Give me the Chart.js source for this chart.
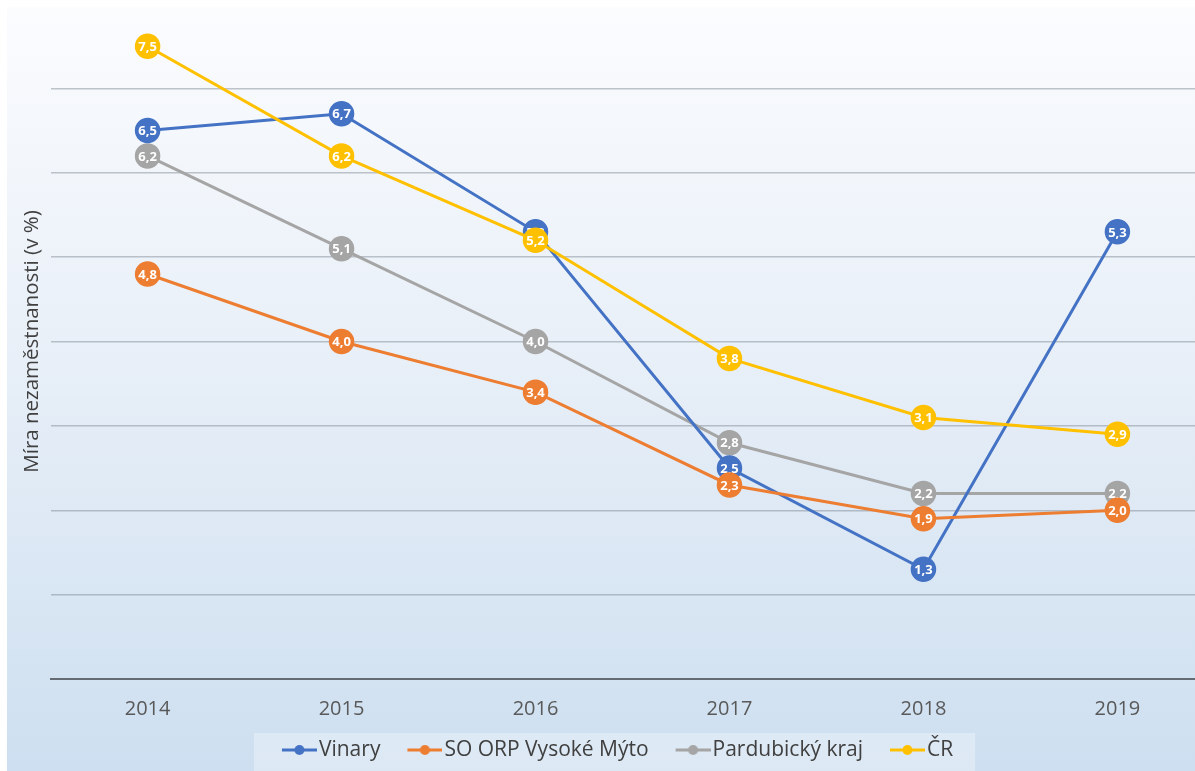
<!DOCTYPE html>
<html>
<head>
<meta charset="utf-8">
<script src="https://cdn.jsdelivr.net/npm/chart.js@4/dist/chart.umd.min.js"></script>
<style>
  html, body { margin: 0; padding: 0; background: #fff; overflow: hidden; }
</style>
</head>
<body>
<canvas id="unemploymentChart" width="1195" height="771"></canvas>
<script>
const years = [2014, 2015, 2016, 2017, 2018, 2019];
const vinary = [6.5, 6.7, 5.3, 2.5, 1.3, 5.3];
const vysokeMyto = [4.8, 4.0, 3.4, 2.3, 1.9, 2.0];
const pardubickyKraj = [6.2, 5.1, 4.0, 2.8, 2.2, 2.2];
const cr = [7.5, 6.2, 5.2, 3.8, 3.1, 2.9];
const seriesNames = ['Vinary', 'SO ORP Vysoké Mýto', 'Pardubický kraj', 'ČR'];
const seriesColors = ['#4472c4', '#ed7d31', '#a5a5a5', '#ffc000'];

Chart.defaults.font.family = '"Open Sans", sans-serif';

// legend marker: short line with a dot, drawn in the right part of the image
function legendSymbol(color) {
    const c = document.createElement('canvas');
    c.width = 49;
    c.height = 12;
    const g = c.getContext('2d');
    g.strokeStyle = color;
    g.lineWidth = 3;
    g.beginPath();
    g.moveTo(14, 6);
    g.lineTo(49, 6);
    g.stroke();
    g.fillStyle = color;
    g.beginPath();
    g.arc(31.5, 6, 5, 0, Math.PI * 2);
    g.fill();
    return c;
}
const legendSymbols = seriesColors.map(legendSymbol);

function makeSeries(i, values, order) {
    return {
        label: seriesNames[i],
        data: years.map((yr, k) => ({ x: yr, y: values[k] })),
        borderColor: seriesColors[i],
        backgroundColor: seriesColors[i],
        borderWidth: 3,
        pointRadius: 12,
        pointHoverRadius: 12,
        pointBorderWidth: 1.5,
        pointBorderColor: seriesColors[i],
        order: order
    };
}

const panelPlugin = {
    id: 'panel',
    afterLayout(chart) {
        // nudge the legend a little to the left, as in the original
        chart.legend.left -= 8;
        chart.legend.right -= 8;
    },
    beforeDraw(chart) {
        const { ctx, width, height } = chart;
        ctx.save();
        ctx.fillStyle = '#ffffff';
        ctx.fillRect(0, 0, width, height);
        const grad = ctx.createLinearGradient(0, 7, 0, height);
        grad.addColorStop(0, '#fbfcfe');
        grad.addColorStop(0.5, '#e6eef7');
        grad.addColorStop(1, '#cddff0');
        ctx.fillStyle = grad;
        ctx.fillRect(7, 7, width - 7, height - 7);
        const boxes = chart.legend.legendHitBoxes;
        if (boxes && boxes.length) {
            const first = boxes[0];
            const last = boxes[boxes.length - 1];
            const x0 = first.left + 5.5 - 28;
            const x1 = last.left + last.width + 22;
            const cy = first.top + first.height / 2;
            ctx.fillStyle = 'rgba(255,255,255,0.3)';
            ctx.fillRect(x0, cy - 17, x1 - x0, height - (cy - 17));
        }
        ctx.restore();
    }
};

const valueLabels = {
    id: 'valueLabels',
    afterDatasetDraw(chart, args) {
        const ds = chart.data.datasets[args.index];
        const ctx = chart.ctx;
        ctx.save();
        ctx.fillStyle = '#ffffff';
        ctx.font = 'bold 13px "Open Sans"';
        ctx.textAlign = 'center';
        ctx.textBaseline = 'middle';
        args.meta.data.forEach((pt, k) => {
            ctx.fillText(ds.data[k].y.toFixed(1).replace('.', ','), pt.x, pt.y + 1);
        });
        ctx.restore();
    }
};

const unemploymentConfig = {
    type: 'line',
    data: {
        datasets: [
            makeSeries(0, vinary, 2),
            makeSeries(1, vysokeMyto, 1),
            makeSeries(2, pardubickyKraj, 3),
            makeSeries(3, cr, 0)
        ]
    },
    options: {
        responsive: false,
        animation: false,
        layout: { autoPadding: false, padding: { left: 7, top: 4, right: 0, bottom: 0.5 } },
        scales: {
            x: {
                type: 'linear',
                min: 2013.5,
                max: 2019.4,
                afterBuildTicks: s => { s.ticks = years.map(v => ({ value: v })); },
                afterFit: s => { s.height = 39; },
                grid: { display: false, drawTicks: false },
                border: { color: '#646b73', width: 2 },
                ticks: {
                    padding: 18,
                    color: '#595959',
                    font: { size: 20 },
                    maxRotation: 0,
                    autoSkip: false,
                    callback: v => String(v)
                }
            },
            y: {
                min: 0,
                max: 8,
                ticks: { display: false, stepSize: 1 },
                border: { display: false },
                grid: {
                    drawTicks: false,
                    lineWidth: 1.5,
                    color: c => c.tick.value > 7 ? 'rgba(0,0,0,0)' : 'rgba(105,115,128,0.4)'
                },
                title: {
                    display: true,
                    text: 'Míra nezaměstnanosti (v %)',
                    color: '#404040',
                    font: { size: 20.5 },
                    padding: { top: 13, bottom: 6 }
                }
            }
        },
        plugins: {
            legend: {
                position: 'bottom',
                fullSize: false,
                labels: {
                    usePointStyle: true,
                    pointStyleWidth: 32,
                    padding: 21.5,
                    color: '#404040',
                    font: { size: 21 },
                    sort: (a, b) => a.datasetIndex - b.datasetIndex,
                    generateLabels: chart => Chart.defaults.plugins.legend.labels.generateLabels(chart)
                        .map(item => Object.assign(item, { pointStyle: legendSymbols[item.datasetIndex] }))
                }
            },
            tooltip: { enabled: false }
        }
    },
    plugins: [panelPlugin, valueLabels]
};

const unemploymentChart = new Chart(
    document.getElementById('unemploymentChart'),
    unemploymentConfig
);
</script>
</body>
</html>
